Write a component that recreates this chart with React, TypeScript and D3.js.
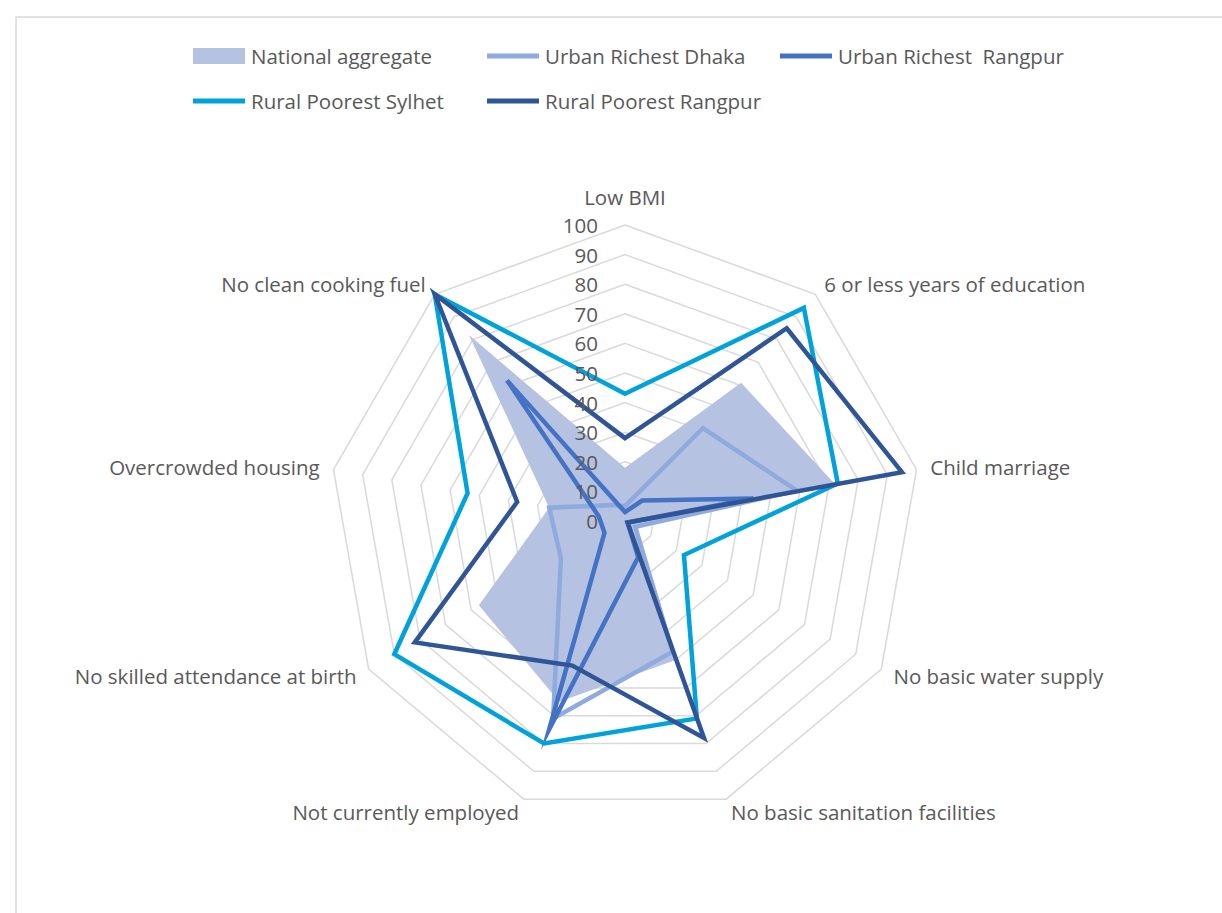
import React from "react";
import * as d3 from "d3";

const categories = [
  "Low BMI",
  "6 or less years of education",
  "Child marriage",
  "No basic water supply",
  "No basic sanitation facilities",
  "Not currently employed",
  "No skilled attendance at birth",
  "Overcrowded housing",
  "No clean cooking fuel",
];
const nationalAggregate = [18, 61, 72, 4, 50, 65, 57, 26, 82];
const urbanRichestDhaka = [5, 41, 59, 4, 47, 71, 25, 26, 7];
const urbanRichestRangpur = [3, 9, 44, 1, 13, 75, 8, 9, 62];
const ruralPoorestSylhet = [43, 94, 73, 23, 71, 80, 90, 54, 100];
const ruralPoorestRangpur = [28, 85, 95, 1, 78, 52, 82, 37, 100];
const tickValues = [0, 10, 20, 30, 40, 50, 60, 70, 80, 90, 100];

const seriesNames = [
  "National aggregate",
  "Urban Richest Dhaka",
  "Urban Richest  Rangpur",
  "Rural Poorest Sylhet",
  "Rural Poorest Rangpur",
];

const W = 1222;
const H = 913;
const cx = 625;
const cy = 521;
const R = 296;
const FONT = "'Open Sans', 'DejaVu Sans', sans-serif";
const TEXT = "#595959";
const FS = 20.5;

export default function App() {
  const r = d3.scaleLinear().domain([0, 100]).range([0, R]);
  const n = categories.length;
  const ang = (i: number) => (i * 2 * Math.PI) / n;
  const radial = d3
    .lineRadial<number>()
    .angle((_d, i) => ang(i))
    .radius((d) => r(d))
    .curve(d3.curveLinearClosed);

  const series = [
    { name: seriesNames[0], values: nationalAggregate, color: "#B6C2E1", fill: true },
    { name: seriesNames[1], values: urbanRichestDhaka, color: "#8FAADC", fill: false },
    { name: seriesNames[2], values: urbanRichestRangpur, color: "#4472C4", fill: false },
    { name: seriesNames[3], values: ruralPoorestSylhet, color: "#00A2DA", fill: false },
    { name: seriesNames[4], values: ruralPoorestRangpur, color: "#2F5597", fill: false },
  ];

  const rings = tickValues.filter((t) => t > 0);

  const legendItems = [
    { s: series[0], x: 193, y: 56 },
    { s: series[1], x: 487, y: 56 },
    { s: series[2], x: 780, y: 56 },
    { s: series[3], x: 193, y: 101 },
    { s: series[4], x: 487, y: 101 },
  ];

  return (
    <svg
      width={W}
      height={H}
      style={{ position: "absolute", left: 0, top: 0, background: "#fff" }}
      fontFamily={FONT}
    >
      <rect x={0} y={0} width={W} height={H} fill="#fff" />
      <rect x={16} y={17} width={W + 20} height={H + 20} fill="none" stroke="#D9D9D9" strokeWidth={1.5} />

      {/* legend */}
      {legendItems.map((it, i) => (
        <g key={i}>
          {it.s.fill ? (
            <rect x={it.x} y={it.y - 8} width={52} height={16} fill={it.s.color} />
          ) : (
            <line x1={it.x} x2={it.x + 52} y1={it.y} y2={it.y} stroke={it.s.color} strokeWidth={5} />
          )}
          <text
            x={it.x + 58}
            y={it.y}
            dominantBaseline="central"
            fontSize={FS}
            fill={TEXT}
            style={{ whiteSpace: "pre" }}
          >
            {it.s.name}
          </text>
        </g>
      ))}

      <g transform={`translate(${cx},${cy})`}>
        {/* grid rings */}
        {rings.map((t) => (
          <path
            key={t}
            d={radial(categories.map(() => t)) || ""}
            fill="none"
            stroke="#D9D9D9"
            strokeWidth={1.5}
          />
        ))}

        {/* series */}
        {series.map((s) =>
          s.fill ? (
            <path key={s.name} d={radial(s.values) || ""} fill={s.color} stroke="none" />
          ) : (
            <path
              key={s.name}
              d={radial(s.values) || ""}
              fill="none"
              stroke={s.color}
              strokeWidth={4.5}
              strokeLinejoin="miter"
              strokeMiterlimit={10}
            />
          )
        )}

        {/* category labels */}
        {categories.map((c, i) => {
          const a = ang(i);
          const rr = R + 14;
          const x = rr * Math.sin(a);
          const y = -rr * Math.cos(a);
          const s = Math.sin(a);
          const anchor = s > 0.01 ? "start" : s < -0.01 ? "end" : "middle";
          const yy = Math.abs(s) < 0.01 ? y - 14 : y;
          return (
            <text
              key={c}
              x={x}
              y={yy}
              textAnchor={anchor}
              dominantBaseline="central"
              fontSize={FS}
              fill={TEXT}
            >
              {c}
            </text>
          );
        })}

        {/* tick labels */}
        {tickValues.map((t) => (
          <text
            key={t}
            x={-27}
            y={-r(t)}
            textAnchor="end"
            dominantBaseline="central"
            fontSize={FS}
            fill={TEXT}
          >
            {t}
          </text>
        ))}
      </g>
    </svg>
  );
}
